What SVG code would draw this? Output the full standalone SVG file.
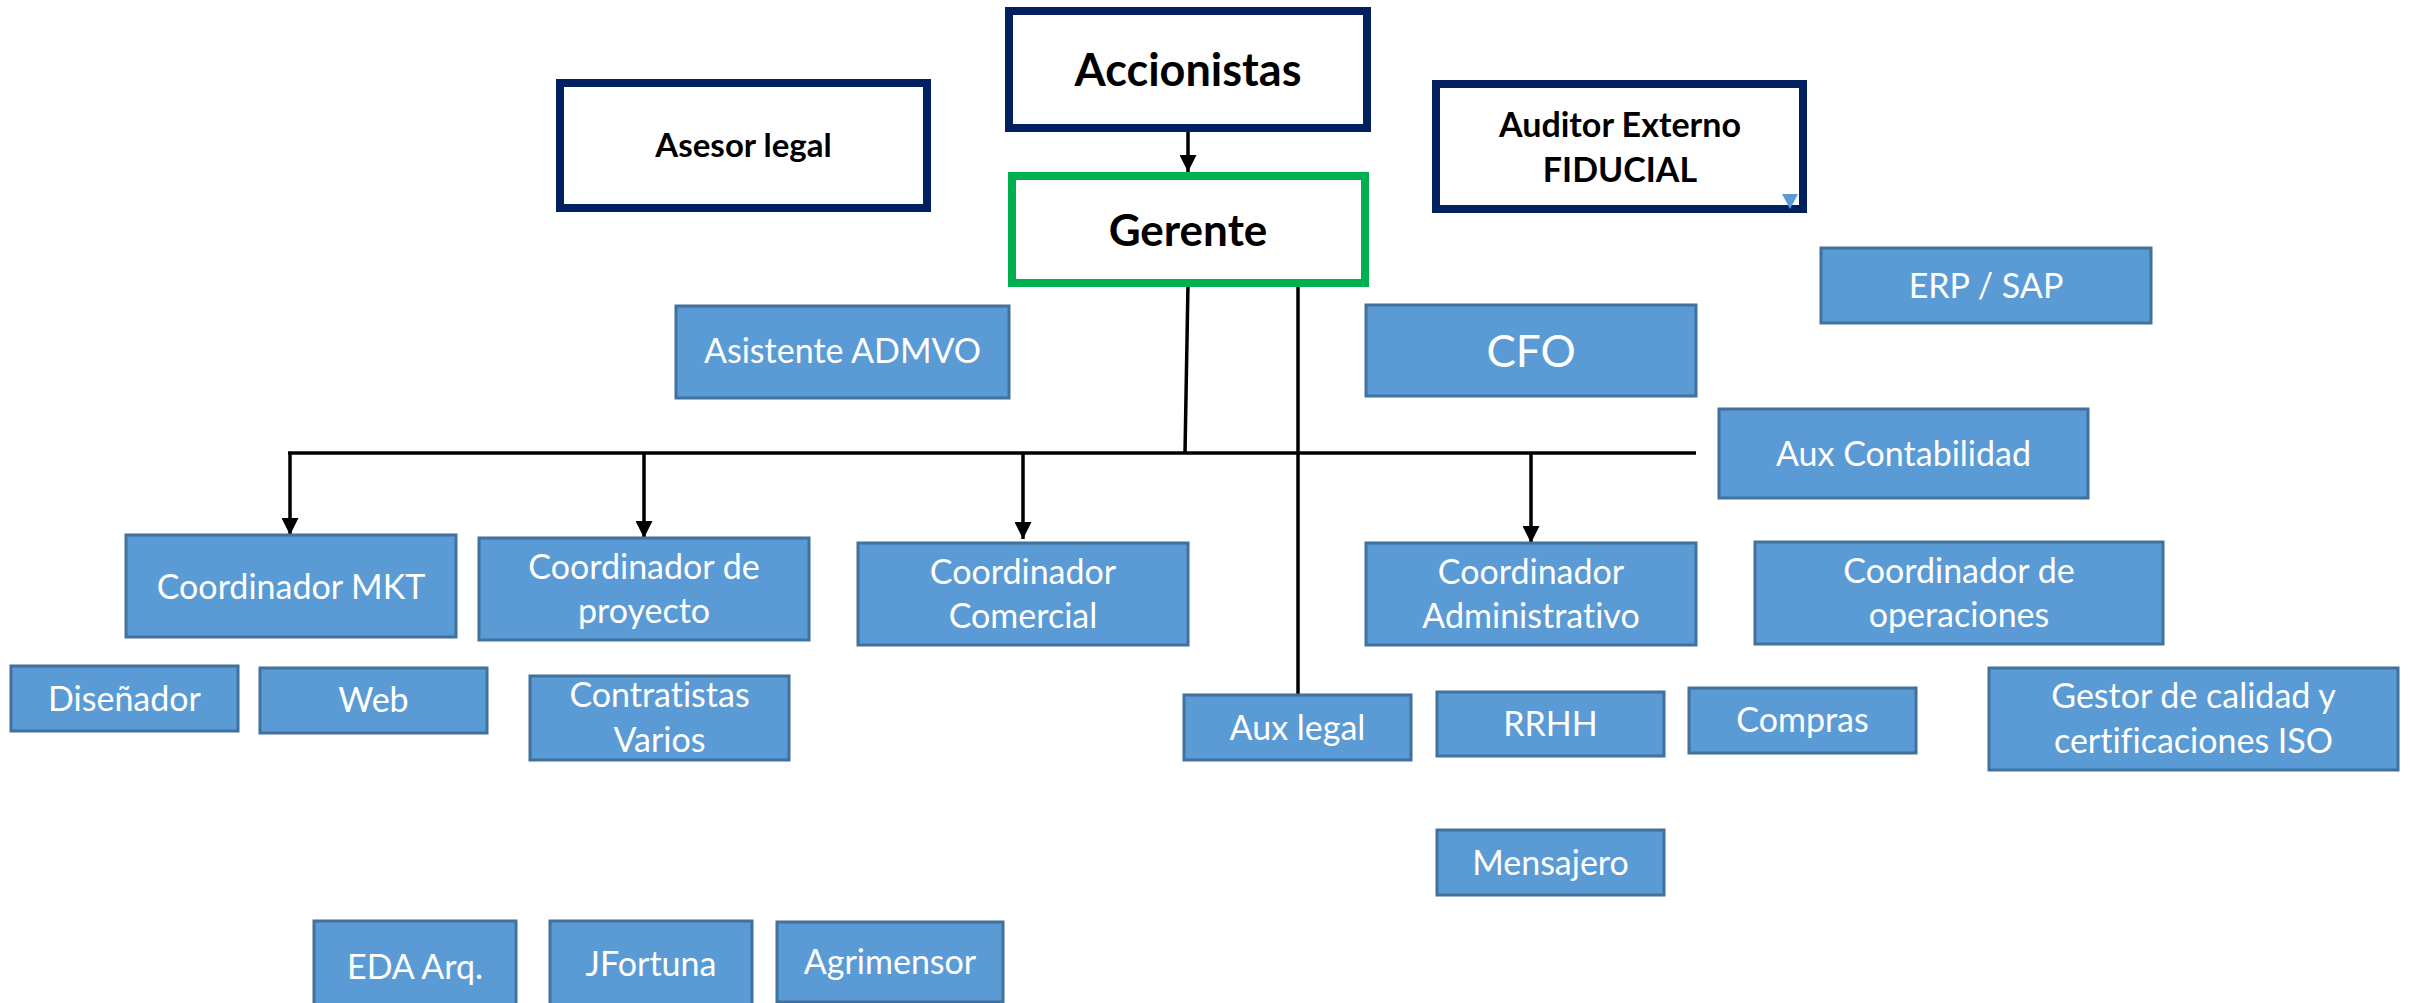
<svg xmlns="http://www.w3.org/2000/svg" width="2410" height="1003" viewBox="0 0 2410 1003">
<style>
.wb{fill:#fff;stroke:#002060;stroke-width:8}
.gb{fill:#fff;stroke:#00B050;stroke-width:8}
.bl{fill:#5B9BD5;stroke:#41719C;stroke-width:3}
.tb{font-family:Lato,"Liberation Sans",sans-serif;font-weight:bold;fill:#000;text-anchor:middle;font-variant-ligatures:none}
.tw{font-family:Lato,"Liberation Sans",sans-serif;fill:#fff;text-anchor:middle;font-size:34px;font-variant-ligatures:none}
.ln{stroke:#000;stroke-width:3.5;fill:none}
</style>
<defs>
<marker id="ah" markerUnits="userSpaceOnUse" markerWidth="17" markerHeight="17" refX="17" refY="8.5" orient="auto" viewBox="0 0 17 17">
<path d="M0,0 L17,8.5 L0,17 Z" fill="#000"/>
</marker>
</defs>
<rect width="2410" height="1003" fill="#fff"/>
<g id="connectors">
<line class="ln" x1="1188" y1="132" x2="1188" y2="172" marker-end="url(#ah)"/>
<line class="ln" x1="1188" y1="284" x2="1185" y2="453"/>
<line class="ln" x1="1298" y1="284" x2="1298" y2="695"/>
<line class="ln" x1="288" y1="453" x2="1696" y2="453"/>
<line class="ln" x1="290" y1="453" x2="290" y2="535" marker-end="url(#ah)"/>
<line class="ln" x1="644" y1="453" x2="644" y2="538" marker-end="url(#ah)"/>
<line class="ln" x1="1023" y1="453" x2="1023" y2="539" marker-end="url(#ah)"/>
<line class="ln" x1="1531" y1="453" x2="1531" y2="543" marker-end="url(#ah)"/>
</g>
<g id="accionistas"><rect class="wb" x="1009" y="11" width="358" height="117"/><text class="tb" x="1188" y="86" font-size="45">Accionistas</text></g>
<g id="asesor-legal"><rect class="wb" x="560" y="83" width="367" height="125"/><text class="tb" x="743.5" y="157" font-size="33">Asesor legal</text></g>
<g id="auditor"><rect class="wb" x="1436" y="84" width="367" height="125"/><text class="tb" x="1620" y="137" font-size="34">Auditor Externo</text><text class="tb" x="1620" y="182" font-size="34">FIDUCIAL</text><polygon points="1782,194 1798,194 1790,209" fill="#5B9BD5"/></g>
<g id="gerente"><rect class="gb" x="1012" y="176" width="353" height="107"/><text class="tb" x="1188" y="246" font-size="44">Gerente</text></g>
<g id="erp-sap"><rect class="bl" x="1821" y="248" width="330" height="75"/><text class="tw" x="1986" y="298">ERP / SAP</text></g>
<g id="asistente-admvo"><rect class="bl" x="676" y="306" width="333" height="92"/><text class="tw" x="842.5" y="363">Asistente ADMVO</text></g>
<g id="cfo"><rect class="bl" x="1366" y="305" width="330" height="91"/><text class="tw" x="1531" y="367" style="font-size:44px">CFO</text></g>
<g id="aux-contabilidad"><rect class="bl" x="1719" y="409" width="369" height="89"/><text class="tw" x="1903.5" y="466">Aux Contabilidad</text></g>
<g id="coord-mkt"><rect class="bl" x="126" y="535" width="330" height="102"/><text class="tw" x="291" y="599">Coordinador MKT</text></g>
<g id="coord-proyecto"><rect class="bl" x="479" y="538" width="330" height="102"/><text class="tw" x="644" y="579">Coordinador de</text><text class="tw" x="644" y="623">proyecto</text></g>
<g id="coord-comercial"><rect class="bl" x="858" y="543" width="330" height="102"/><text class="tw" x="1023" y="584">Coordinador</text><text class="tw" x="1023" y="628">Comercial</text></g>
<g id="coord-administrativo"><rect class="bl" x="1366" y="543" width="330" height="102"/><text class="tw" x="1531" y="584">Coordinador</text><text class="tw" x="1531" y="628">Administrativo</text></g>
<g id="coord-operaciones"><rect class="bl" x="1755" y="542" width="408" height="102"/><text class="tw" x="1959" y="583">Coordinador de</text><text class="tw" x="1959" y="627">operaciones</text></g>
<g id="disenador"><rect class="bl" x="11" y="666" width="227" height="65"/><text class="tw" x="124.5" y="711">Diseñador</text></g>
<g id="web"><rect class="bl" x="260" y="668" width="227" height="65"/><text class="tw" x="373.5" y="712">Web</text></g>
<g id="contratistas"><rect class="bl" x="530" y="676" width="259" height="84"/><text class="tw" x="659.5" y="707">Contratistas</text><text class="tw" x="659.5" y="752">Varios</text></g>
<g id="aux-legal"><rect class="bl" x="1184" y="695" width="227" height="65"/><text class="tw" x="1297.5" y="740">Aux legal</text></g>
<g id="rrhh"><rect class="bl" x="1437" y="692" width="227" height="64"/><text class="tw" x="1550.5" y="736">RRHH</text></g>
<g id="compras"><rect class="bl" x="1689" y="688" width="227" height="65"/><text class="tw" x="1802.5" y="732">Compras</text></g>
<g id="gestor-calidad"><rect class="bl" x="1989" y="668" width="409" height="102"/><text class="tw" x="2193.5" y="708">Gestor de calidad y</text><text class="tw" x="2193.5" y="753">certificaciones ISO</text></g>
<g id="mensajero"><rect class="bl" x="1437" y="830" width="227" height="65"/><text class="tw" x="1550.5" y="875">Mensajero</text></g>
<g id="eda-arq"><rect class="bl" x="314" y="921" width="202" height="95"/><text class="tw" x="415" y="979">EDA Arq.</text></g>
<g id="jfortuna"><rect class="bl" x="550" y="921" width="202" height="95"/><text class="tw" x="651" y="976">JFortuna</text></g>
<g id="agrimensor"><rect class="bl" x="777" y="922" width="226" height="80"/><text class="tw" x="890" y="974">Agrimensor</text></g>
</svg>
